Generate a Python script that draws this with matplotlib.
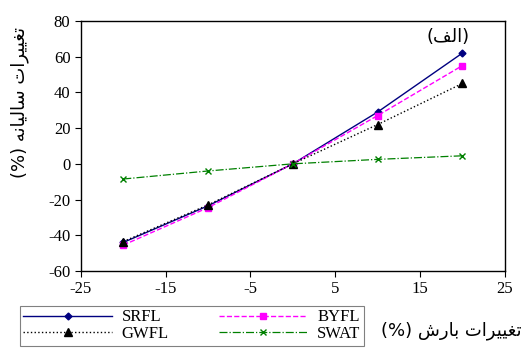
import matplotlib
matplotlib.use("Agg")
import matplotlib.pyplot as plt

# data
rain_change = [-20, -10, 0, 10, 20]
srfl = [-44, -23.5, 0, 29, 62]
byfl = [-45.5, -24.5, 0, 27, 55]
gwfl = [-43.5, -23, 0, 22, 45]
swat = [-8.5, -4, 0, 2.5, 4.5]

xticks = [-25, -15, -5, 5, 15, 25]
yticks = [-60, -40, -20, 0, 20, 40, 60, 80]

# Persian labels, pre-shaped (presentation forms) in visual order
tagh = "\ufe97\ufed0\ufef4\ufef4\ufeae\ufe8d\ufe95"[::-1]      # تغییرات
salane = "\ufeb3\ufe8e\ufedf\ufef4\ufe8e\ufee7\ufeea"[::-1]    # سالیانه
baresh = "\ufe91\ufe8e\ufead\ufeb5"[::-1]                      # بارش
alef = "\ufe8d\ufedf\ufed2"[::-1]                              # الف
ylab = "(%) " + salane + " " + tagh
xlab = "(%) " + baresh + " " + tagh
panel = "(" + alef + ")"

plt.rcParams['font.family'] = ['Liberation Serif', 'DejaVu Sans']
plt.rcParams['font.size'] = 11
plt.rcParams['axes.unicode_minus'] = False

fig = plt.figure(figsize=(5.22, 3.49), dpi=100)
ax = fig.add_axes([0.155, 0.2235, 0.812, 0.7165])

l1, = ax.plot(rain_change, srfl, '-', color='#000080', marker='D', markersize=3.5, lw=1, label='SRFL')
l2, = ax.plot(rain_change, byfl, '--', color='#ff00ff', marker='s', markersize=5, lw=1, label='BYFL')
l3, = ax.plot(rain_change, gwfl, ':', color='black', marker='^', markersize=5.5, lw=1, label='GWFL')
l4, = ax.plot(rain_change, swat, '-.', color='#008000', marker='x', markersize=4, lw=0.9, label='SWAT')

ax.set_xlim(-25, 25)
ax.set_ylim(-60, 80)
ax.set_xticks(xticks)
ax.set_yticks(yticks)
ax.tick_params(direction='out', length=4, labelsize=12)
for s in ax.spines.values():
    s.set_linewidth(1)

ax.text(20.8, 66, panel, ha='right', va='bottom', fontsize=13, family='DejaVu Sans')

fig.text(20/522, 1 - 102/349, ylab, rotation=90, ha='center', va='center',
         fontsize=13, family='DejaVu Sans')
fig.text(451/522, 1 - 331/349, xlab, ha='center', va='center',
         fontsize=13, family='DejaVu Sans')

# column-first fill -> reorder so rows read SRFL/BYFL, GWFL/SWAT
leg = fig.legend([l1, l3, l2, l4], ['SRFL', 'GWFL', 'BYFL', 'SWAT'],
                 loc='upper left', bbox_to_anchor=(20/522, 1 - 306/349), ncol=2,
                 borderaxespad=0, handlelength=5.3, columnspacing=3.0,
                 fancybox=False, framealpha=1, edgecolor='#808080', fontsize=12,
                 borderpad=0.2, labelspacing=0.05, handletextpad=0.6)
leg.get_frame().set_linewidth(0.8)

fig.savefig("out.png", dpi=100)
